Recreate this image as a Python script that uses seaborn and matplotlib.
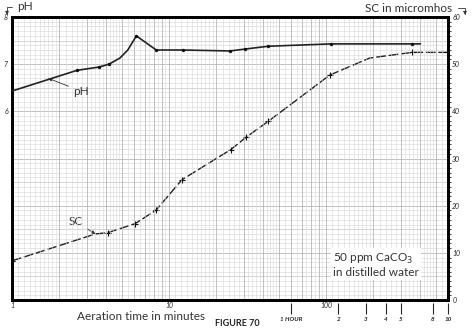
import matplotlib
matplotlib.use("Agg")
import matplotlib.pyplot as plt
import numpy as np
import pandas as pd
import seaborn as sns
from matplotlib.ticker import FixedLocator, FuncFormatter, NullFormatter

sns.set_style("white")
plt.rcParams['font.family'] = ['Lato', 'DejaVu Sans']

# pH readings during aeration (minutes, pH)
ph_minutes = [1, 2.6, 3.6, 4.15, 4.87, 5.47, 6.2, 8.3, 12.3, 24.5, 30.5, 43, 108, 355, 400]
ph_values = [6.43, 6.87, 6.94, 7.0, 7.13, 7.3, 7.6, 7.3, 7.3, 7.28, 7.32, 7.38, 7.43, 7.43, 7.43]
ph_marked = [0, 1, 1, 1, 0, 0, 1, 1, 1, 1, 1, 1, 1, 1, 0]

# specific conductance readings (minutes, micromhos)
sc_minutes = [1, 3.4, 4.1, 6.1, 8.3, 12.1, 24.8, 31, 43, 106, 190, 355, 600]
sc_values = [8.3, 14.0, 14.3, 16.2, 19.1, 25.5, 31.9, 34.5, 37.9, 47.7, 51.3, 52.5, 52.5]
sc_marked = [1, 0, 1, 1, 1, 1, 1, 1, 1, 1, 0, 1, 1]

hour_ticks = [60, 120, 180, 240, 300, 480, 600]
hour_labels = ["1 HOUR", "2", "3", "4", "5", "8", "10"]
ph_tick_values = [6, 7, 8]
sc_tick_values = [0, 10, 20, 30, 40, 50, 60]

ph_df = pd.DataFrame({"minutes": ph_minutes, "pH": ph_values, "marked": ph_marked})
sc_df = pd.DataFrame({"minutes": sc_minutes, "SC": sc_values, "marked": sc_marked})

W, H = 475, 331
fig = plt.figure(figsize=(W / 100, H / 100), dpi=100)
ax = fig.add_axes([12 / W, 1 - 300 / H, 436 / W, 283 / H])
ax2 = ax.twinx()

ax.set_xscale("log")
ax.set_xlim(1, 600)
ax.set_ylim(2, 8)
ax2.set_ylim(0, 60)

# graph-paper ruling
major_x = [m * 10 ** d for d in range(3) for m in range(1, 10)] + [1000]
minor_x = []
for d in range(3):
    base = 10 ** d
    minor_x += list(base * np.arange(1.1, 2.0, 0.1))
    minor_x += list(base * np.arange(2.2, 5.0, 0.2))
    minor_x += list(base * np.arange(5.5, 10.0, 0.5))
ax.xaxis.set_major_locator(FixedLocator(major_x))
ax.xaxis.set_minor_locator(FixedLocator(minor_x))
ax.xaxis.set_major_formatter(FuncFormatter(lambda v, p: f"{v:g}" if v in (1, 10, 100) else ""))
ax.xaxis.set_minor_formatter(NullFormatter())
ax.grid(True, which="major", axis="x", color="#b0b0b0", lw=0.55)
ax.grid(True, which="minor", axis="x", color="#d6d6d6", lw=0.4)

ax2.yaxis.set_major_locator(FixedLocator(sc_tick_values))
ax2.yaxis.set_minor_locator(FixedLocator(list(range(0, 61))))
ax2.grid(True, which="minor", axis="y", color="#d6d6d6", lw=0.4)
ax2.grid(True, which="major", axis="y", color="#b0b0b0", lw=0.55)
for v in range(5, 60, 10):
    ax2.axhline(v, color="#c4c4c4", lw=0.5, zorder=0.5)
ax2.set_yticks(sc_tick_values)
ax2.set_yticklabels([str(v) for v in sc_tick_values], fontsize=5, style="italic")
ax2.tick_params(axis="y", length=0, pad=3)

ax.set_yticks(ph_tick_values)
ax.set_yticklabels([str(v) for v in ph_tick_values], fontsize=5, style="italic")
ax.tick_params(axis="y", length=0, pad=3)
ax.tick_params(axis="x", which="both", length=0, pad=1.5, labelsize=5)
for lab in ax.get_xticklabels():
    lab.set_style("italic")
ax.grid(False, axis="y")

for a in (ax, ax2):
    for s in a.spines.values():
        s.set_color("black")
        s.set_linewidth(2.0)
        s.set_visible(True)

# pH curve, solid with dots
sns.lineplot(data=ph_df, x="minutes", y="pH", ax=ax, color="#222222",
             lw=1.2, estimator=None, sort=False, legend=False, zorder=4)
ax.set_zorder(2)
ax.patch.set_visible(False)
ax2.set_zorder(1)
sns.scatterplot(data=ph_df[ph_df.marked == 1], x="minutes", y="pH", ax=ax,
                color="#111111", s=6, linewidth=0, legend=False, zorder=5)

# SC curve, broken line with crosses
sns.lineplot(data=sc_df, x="minutes", y="SC", ax=ax2, color="#222222",
             lw=1.0, estimator=None, sort=False, legend=False, zorder=4,
             linestyle=(0, (7, 2)))
sns.scatterplot(data=sc_df[sc_df.marked == 1], x="minutes", y="SC", ax=ax2,
                marker="+", color="#111111", s=22, linewidth=0.8, legend=False, zorder=5)

ax.set_xlabel("")
ax.set_ylabel("")
ax2.set_ylabel("")

# hour scale below the minutes axis
sec = ax.secondary_xaxis(-0.012)
sec.set_xticks(hour_ticks)
sec.set_xticklabels(hour_labels, fontsize=4.5, style="italic", fontweight="bold")
sec.tick_params(length=8, width=0.8, pad=2, direction="out")
sec.xaxis.set_minor_locator(FixedLocator([]))
sec.spines["bottom"].set_visible(False)

# curve callouts
ax.annotate("pH", xy=(1.70, 6.70), xytext=(2.45, 6.43), fontsize=8.5, color="#333333",
            va="center", ha="left",
            arrowprops=dict(arrowstyle="-|>", color="#333333", lw=0.6,
                            mutation_scale=5, shrinkA=1, shrinkB=0))
ax2.annotate("SC", xy=(3.4, 14.0), xytext=(2.3, 16.6), fontsize=8.5, color="#333333",
             va="center", ha="left",
             arrowprops=dict(arrowstyle="-|>", color="#333333", lw=0.6,
                             mutation_scale=5, shrinkA=1, shrinkB=0))

ax.text(0.736, 0.17, "50 ppm CaCO$_3$\nin distilled water", transform=ax.transAxes,
        fontsize=8.5, color="#333333", ha="left", va="top", linespacing=1.15,
        bbox=dict(facecolor="white", edgecolor="none", pad=1.5), zorder=10)

# axis titles
fig.text(141 / W, 1 - 316 / H, "Aeration time in minutes", fontsize=8.5, color="#333333",
         ha="center", va="center")
fig.text(237 / W, 1 - 323 / H, "FIGURE 70", fontsize=6.5, color="#222222",
         ha="center", va="center", fontweight="bold", fontstretch="condensed")

ax.annotate("pH", xy=(7 / W, 1 - 15 / H), xycoords="figure fraction",
            xytext=(17 / W, 1 - 7 / H), textcoords="figure fraction",
            fontsize=8.5, color="#333333", ha="left", va="center",
            arrowprops=dict(arrowstyle="-|>", color="#333333", lw=0.6, mutation_scale=5,
                            connectionstyle="angle,angleA=0,angleB=90,rad=0",
                            shrinkA=1, shrinkB=0), annotation_clip=False)
ax2.annotate("SC in micromhos", xy=(465 / W, 1 - 15 / H), xycoords="figure fraction",
             xytext=(452 / W, 1 - 8 / H), textcoords="figure fraction",
             fontsize=8.5, color="#333333", ha="right", va="center",
             arrowprops=dict(arrowstyle="-|>", color="#333333", lw=0.6, mutation_scale=5,
                             connectionstyle="angle,angleA=0,angleB=90,rad=0",
                             shrinkA=2, shrinkB=0), annotation_clip=False)

fig.savefig("out.png", dpi=100, facecolor="white")
